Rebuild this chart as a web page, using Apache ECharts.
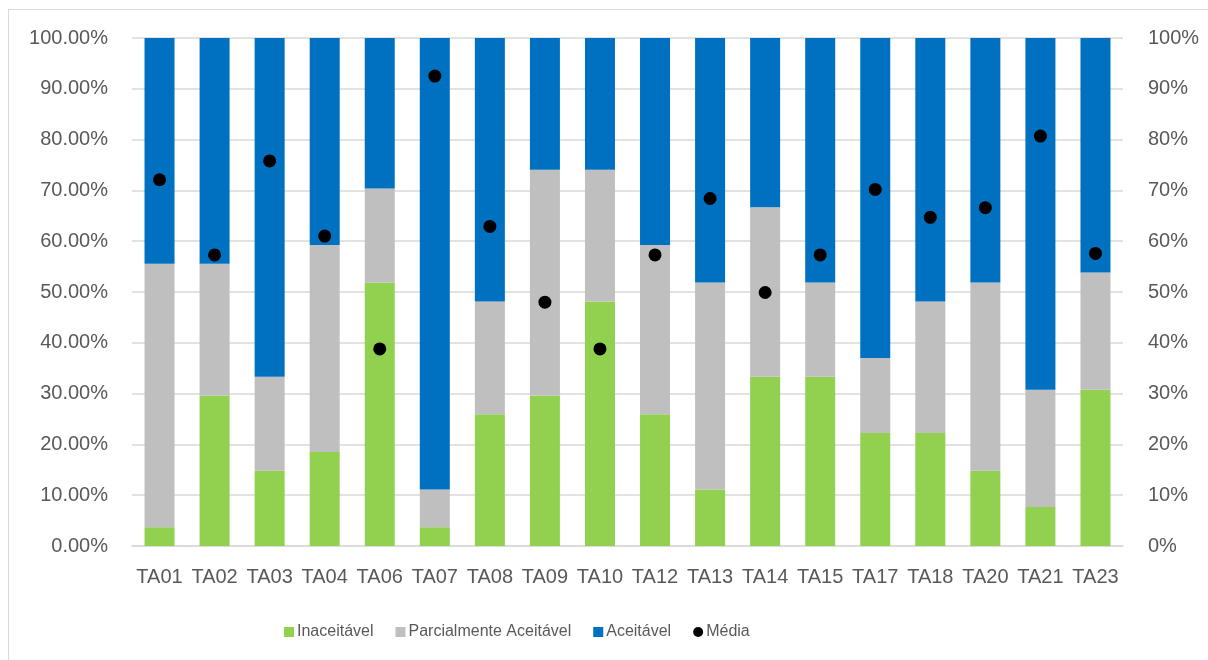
<!DOCTYPE html>
<html>
<head>
<meta charset="utf-8">
<script src="https://cdn.jsdelivr.net/npm/echarts@6/dist/echarts.min.js"></script>
<style>
  html, body { margin: 0; padding: 0; background: #fff; overflow: hidden; }
  #frame { position: absolute; left: 8px; top: 9px; width: 1400px; height: 800px; border: 1.5px solid #D9D9D9; box-sizing: border-box; }
  #chart { position: absolute; left: 0; top: 0; width: 1208px; height: 660px; }
</style>
</head>
<body>
<div id="frame"></div>
<div id="chart"></div>
<script>
const categories = ['TA01','TA02','TA03','TA04','TA06','TA07','TA08','TA09','TA10','TA12','TA13','TA14','TA15','TA17','TA18','TA20','TA21','TA23'];
const inaceitavel = [3.70, 29.63, 14.81, 18.52, 51.85, 3.70, 25.93, 29.63, 48.15, 25.93, 11.11, 33.33, 33.33, 22.22, 22.22, 14.81, 7.69, 30.77];
const parcialmente = [51.85, 25.93, 18.52, 40.74, 18.52, 7.41, 22.22, 44.44, 25.93, 33.33, 40.74, 33.33, 18.52, 14.81, 25.93, 37.04, 23.08, 23.08];
const aceitavel = [44.44, 44.44, 66.67, 40.74, 29.63, 88.89, 51.85, 25.93, 25.93, 40.74, 48.15, 33.33, 48.15, 62.96, 51.85, 48.15, 69.23, 46.15];
const media = [72.1, 57.3, 75.8, 61.0, 38.8, 92.5, 62.9, 48.0, 38.8, 57.3, 68.4, 49.9, 57.3, 70.2, 64.7, 66.6, 80.7, 57.6];

const FONT = 'Liberation Sans';
const TXT = '#595959';
const chart = echarts.init(document.getElementById('chart'), null, { renderer: 'canvas' });
chart.setOption({
  backgroundColor: 'transparent',
  animation: false,
  textStyle: { fontFamily: FONT, color: TXT },
  grid: { left: 132, right: 85, top: 38, bottom: 114, containLabel: false },
  legend: {
    left: 279, top: 619,
    itemWidth: 10, itemHeight: 10, itemGap: 22,
    textStyle: { fontFamily: FONT, fontSize: 16, color: TXT, padding: [0, 0, 0, -2] },
    data: [
      { name: 'Inaceitável', icon: 'rect' },
      { name: 'Parcialmente Aceitável', icon: 'rect' },
      { name: 'Aceitável', icon: 'rect' },
      { name: 'Média', icon: 'circle' }
    ]
  },
  xAxis: {
    type: 'category',
    data: categories,
    axisLine: { lineStyle: { color: '#D9D9D9', width: 1.5 } },
    axisTick: { show: false },
    axisLabel: { fontFamily: FONT, fontSize: 20, color: TXT, margin: 21, interval: 0 }
  },
  yAxis: [
    {
      type: 'value', min: 0, max: 100, interval: 10, position: 'left',
      axisLine: { show: false }, axisTick: { show: false },
      splitLine: { lineStyle: { color: '#D9D9D9', width: 1.5 } },
      axisLabel: { fontFamily: FONT, fontSize: 20, color: TXT, margin: 24, formatter: v => v.toFixed(2) + '%' }
    },
    {
      type: 'value', min: 0, max: 100, interval: 10, position: 'right',
      axisLine: { show: false }, axisTick: { show: false },
      splitLine: { show: false },
      axisLabel: { fontFamily: FONT, fontSize: 20, color: TXT, margin: 25, formatter: v => v + '%' }
    }
  ],
  series: [
    { name: 'Inaceitável', type: 'bar', stack: 'total', data: inaceitavel, barWidth: 30,
      itemStyle: { color: '#92D050' } },
    { name: 'Parcialmente Aceitável', type: 'bar', stack: 'total', data: parcialmente, barWidth: 30,
      itemStyle: { color: '#BFBFBF' } },
    { name: 'Aceitável', type: 'bar', stack: 'total', data: aceitavel, barWidth: 30,
      itemStyle: { color: '#0070C0' } },
    { name: 'Média', type: 'scatter', yAxisIndex: 1, data: media, symbol: 'circle', symbolSize: 13,
      itemStyle: { color: '#000000', opacity: 1 }, z: 5 }
  ]
});
</script>
</body>
</html>
